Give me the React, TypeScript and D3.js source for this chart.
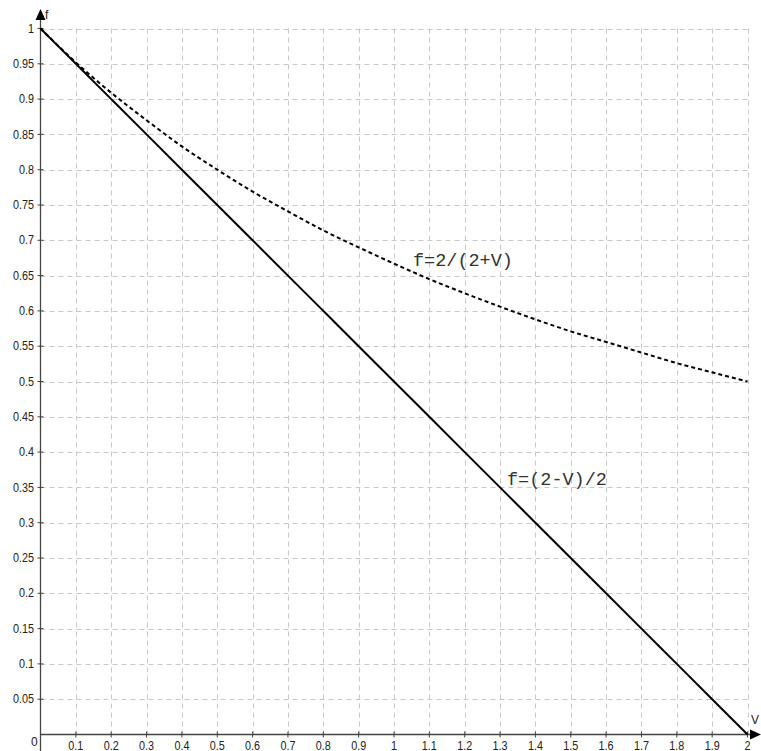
import React, { useEffect, useRef } from 'react';
import * as d3 from 'd3';

// values
const vValues = [0, 0.1, 0.2, 0.3, 0.4, 0.5, 0.6, 0.7, 0.8, 0.9, 1, 1.1, 1.2, 1.3, 1.4, 1.5, 1.6, 1.7, 1.8, 1.9, 2];
const fCurve = [1, 0.952, 0.909, 0.87, 0.833, 0.8, 0.769, 0.741, 0.714, 0.69, 0.667, 0.645, 0.625, 0.606, 0.588, 0.571, 0.556, 0.541, 0.526, 0.513, 0.5];
const fLine = [1, 0.95, 0.9, 0.85, 0.8, 0.75, 0.7, 0.65, 0.6, 0.55, 0.5, 0.45, 0.4, 0.35, 0.3, 0.25, 0.2, 0.15, 0.1, 0.05, 0];
const xTicks = [0.1, 0.2, 0.3, 0.4, 0.5, 0.6, 0.7, 0.8, 0.9, 1, 1.1, 1.2, 1.3, 1.4, 1.5, 1.6, 1.7, 1.8, 1.9, 2];
const yTicks = [0.05, 0.1, 0.15, 0.2, 0.25, 0.3, 0.35, 0.4, 0.45, 0.5, 0.55, 0.6, 0.65, 0.7, 0.75, 0.8, 0.85, 0.9, 0.95, 1];
const curveLabel = 'f=2/(2+V)';
const lineLabel = 'f=(2-V)/2';

function Chart() {
  const svgRef = useRef<SVGSVGElement>(null);

  useEffect(() => {
    const svg = d3.select(svgRef.current);
    svg.selectAll('*').remove();

    const width = 761;
    const height = 751;
    const x = d3.scaleLinear().domain([0, 2]).range([40.5, 747.5]);
    const y = d3.scaleLinear().domain([0, 1]).range([734.5, 28.5]);

    svg.append('rect').attr('width', width).attr('height', height).attr('fill', '#fff');

    // grid
    const grid = svg.append('g').attr('stroke', '#c8c8c8').attr('stroke-dasharray', '5,4').attr('stroke-width', 1);
    xTicks.forEach(t => {
      grid.append('line')
        .attr('x1', Math.round(x(t)) + 0.5).attr('x2', Math.round(x(t)) + 0.5)
        .attr('y1', y(1)).attr('y2', y(0));
    });
    yTicks.forEach(t => {
      grid.append('line')
        .attr('x1', x(0)).attr('x2', x(2))
        .attr('y1', Math.round(y(t)) + 0.5).attr('y2', Math.round(y(t)) + 0.5);
    });

    // axes
    const axisColor = '#444';
    svg.append('line').attr('x1', x(0)).attr('x2', 752).attr('y1', y(0)).attr('y2', y(0))
      .attr('stroke', axisColor).attr('stroke-width', 1.3);
    svg.append('line').attr('x1', x(0)).attr('x2', x(0)).attr('y1', 18).attr('y2', 751)
      .attr('stroke', axisColor).attr('stroke-width', 1.3);
    // arrows
    svg.append('path').attr('d', `M${x(0) - 5},${20} L${x(0) + 5},${20} L${x(0)},${9} Z`).attr('fill', '#000');
    svg.append('path').attr('d', `M${750},${y(0) - 5} L${750},${y(0) + 5} L${761},${y(0)} Z`).attr('fill', '#000');

    const labelFont = 'Arial, "Liberation Sans", sans-serif';
    svg.append('text').attr('x', 45).attr('y', 19).attr('font-family', labelFont).attr('font-size', 12)
      .attr('fill', '#222').text('f');
    svg.append('text').attr('x', 751).attr('y', 724).attr('font-family', labelFont).attr('font-size', 12)
      .attr('fill', '#222').text('V');

    // ticks + labels
    xTicks.forEach(t => {
      svg.append('line').attr('x1', x(t)).attr('x2', x(t)).attr('y1', y(0) - 3).attr('y2', y(0) + 3)
        .attr('stroke', axisColor);
      svg.append('text').attr('x', x(t)).attr('y', 750).attr('text-anchor', 'middle')
        .attr('font-family', labelFont).attr('font-size', 12).attr('fill', '#222')
        .attr('transform', `translate(${x(t)},0) scale(0.9,1) translate(${-x(t)},0)`)
        .text(String(t));
    });
    yTicks.forEach(t => {
      svg.append('line').attr('x1', x(0) - 3).attr('x2', x(0) + 3).attr('y1', y(t)).attr('y2', y(t))
        .attr('stroke', axisColor);
      svg.append('text').attr('x', 34).attr('y', y(t)).attr('dy', '0.35em').attr('text-anchor', 'end')
        .attr('font-family', labelFont).attr('font-size', 12).attr('fill', '#222')
        .attr('transform', `translate(34,0) scale(0.9,1) translate(-34,0)`)
        .text(String(t));
    });
    svg.append('text').attr('x', 31).attr('y', 746).attr('font-family', labelFont).attr('font-size', 12)
      .attr('fill', '#222').text('0');

    // series
    const lineGen = d3.line<number>().x((d, i) => x(vValues[i])).y(d => y(d)).curve(d3.curveMonotoneX);
    svg.append('path').attr('d', lineGen(fCurve) ?? '').attr('fill', 'none')
      .attr('stroke', '#000').attr('stroke-width', 2).attr('stroke-dasharray', '4,3');
    svg.append('path').attr('d', lineGen(fLine) ?? '').attr('fill', 'none')
      .attr('stroke', '#000').attr('stroke-width', 2);

    const monoFont = '"Courier New", "Liberation Mono", monospace';
    svg.append('text').attr('x', 413).attr('y', 266).attr('font-family', monoFont).attr('font-size', 18.5)
      .attr('fill', '#333').text(curveLabel);
    svg.append('text').attr('x', 507).attr('y', 485).attr('font-family', monoFont).attr('font-size', 18.5)
      .attr('fill', '#333').text(lineLabel);
  }, []);

  return <svg ref={svgRef} width={761} height={751} style={{ display: 'block' }} />;
}

export default function App() {
  return (
    <div style={{ position: 'absolute', left: 0, top: 0 }}>
      <Chart />
    </div>
  );
}
